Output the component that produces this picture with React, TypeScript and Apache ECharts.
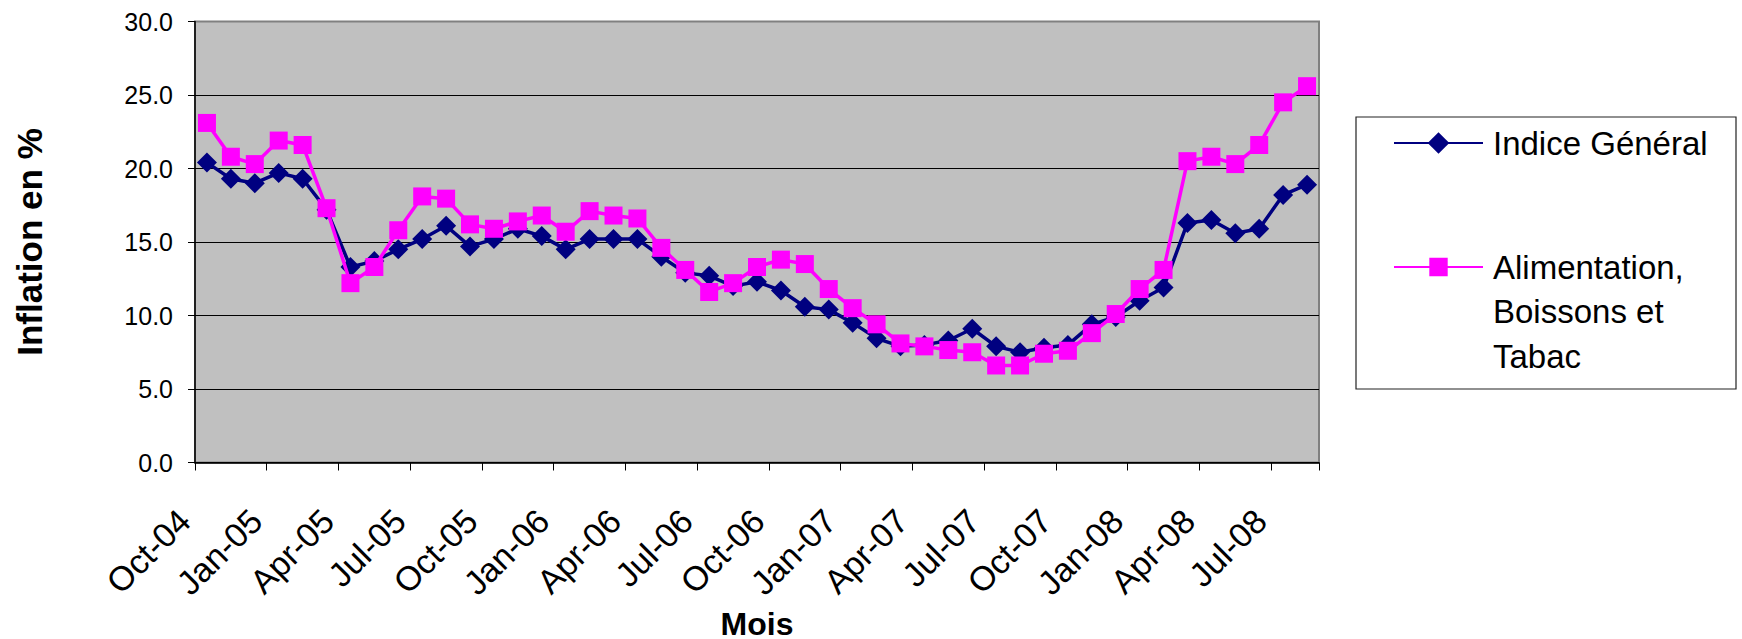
import React, { useEffect, useRef } from "react";
import * as echarts from "echarts";

const months = [
  "Oct-04", "Nov-04", "Dec-04",
  "Jan-05", "Feb-05", "Mar-05", "Apr-05", "May-05", "Jun-05", "Jul-05", "Aug-05", "Sep-05", "Oct-05", "Nov-05", "Dec-05",
  "Jan-06", "Feb-06", "Mar-06", "Apr-06", "May-06", "Jun-06", "Jul-06", "Aug-06", "Sep-06", "Oct-06", "Nov-06", "Dec-06",
  "Jan-07", "Feb-07", "Mar-07", "Apr-07", "May-07", "Jun-07", "Jul-07", "Aug-07", "Sep-07", "Oct-07", "Nov-07", "Dec-07",
  "Jan-08", "Feb-08", "Mar-08", "Apr-08", "May-08", "Jun-08", "Jul-08", "Aug-08",
];

const indiceGeneral = [
  20.4, 19.3, 19.0, 19.7, 19.3, 17.2, 13.3, 13.7, 14.5, 15.2, 16.1, 14.7, 15.2, 15.9, 15.4, 14.5,
  15.2, 15.2, 15.2, 14.0, 12.9, 12.7, 12.0, 12.3, 11.7, 10.6, 10.4, 9.5, 8.45, 7.9, 8.0, 8.3,
  9.1, 7.9, 7.5, 7.8, 8.0, 9.4, 9.9, 11.0, 11.9, 16.3, 16.5, 15.6, 15.9, 18.2, 18.9,
];

const alimentation = [
  23.1, 20.8, 20.3, 21.9, 21.6, 17.3, 12.2, 13.3, 15.8, 18.1, 17.95, 16.2, 15.9, 16.4, 16.8, 15.7,
  17.1, 16.8, 16.6, 14.6, 13.1, 11.6, 12.2, 13.3, 13.8, 13.5, 11.8, 10.5, 9.4, 8.1, 7.9, 7.65,
  7.5, 6.6, 6.6, 7.4, 7.6, 8.8, 10.1, 11.8, 13.1, 20.5, 20.8, 20.3, 21.6, 24.5, 25.6,
];

const seriesNames = ["Indice Général", "Alimentation, Boissons et Tabac"];
const legendLines2 = ["Alimentation,", "Boissons et", "Tabac"];
const yAxisTitle = "Inflation en %";
const xAxisTitle = "Mois";

const FONT = "'Liberation Sans', Arial, sans-serif";

export default function App() {
  const ref = useRef<HTMLDivElement>(null);

  useEffect(() => {
    if (!ref.current) return;
    const chart = echarts.init(ref.current, undefined, { renderer: "svg" });
    chart.setOption({
      animation: false,
      backgroundColor: "#ffffff",
      textStyle: { fontFamily: FONT },
      grid: {
        left: 195,
        top: 21.5,
        right: 423,
        bottom: 176.5,
        containLabel: false,
        outerBoundsMode: "none",
        show: true,
        backgroundColor: "#C0C0C0",
        borderColor: "#808080",
        borderWidth: 2,
      },
      graphic: [
        {
          type: "rect",
          shape: { x: 1356, y: 117, width: 380, height: 272 },
          style: { fill: "none", stroke: "#222", lineWidth: 1.2 },
        },
      ],
      legend: [
        {
          data: [seriesNames[0]],
          left: 1393,
          top: 121,
          padding: 0,
          itemWidth: 89,
          itemHeight: 27,
          textStyle: {
            fontFamily: FONT,
            fontSize: 33,
            color: "#000",
            lineHeight: 44,
            padding: [0, 0, 0, 5],
          },
        },
        {
          data: [seriesNames[1]],
          left: 1393,
          top: 267 - 2.5 * 44.5,
          padding: 0,
          itemWidth: 89,
          itemHeight: 23,
          formatter: () => "\n\n" + legendLines2.join("\n"),
          textStyle: {
            fontFamily: FONT,
            fontSize: 33,
            color: "#000",
            lineHeight: 44.5,
            padding: [0, 0, 0, 5],
          },
        },
      ],
      xAxis: {
        type: "category",
        data: months,
        boundaryGap: true,
        name: xAxisTitle,
        nameLocation: "middle",
        nameGap: 127,
        nameTextStyle: {
          fontFamily: FONT,
          fontSize: 32,
          fontWeight: "bold",
          color: "#000",
          lineHeight: 33,
        },
        axisLine: { show: true, lineStyle: { color: "#000", width: 1.5 } },
        axisTick: { show: true, interval: 2, length: 8, lineStyle: { color: "#000", width: 1 } },
        axisLabel: {
          interval: 2,
          rotate: 45,
          margin: 30,
          fontFamily: FONT,
          fontSize: 34,
          color: "#000",
          padding: [0, 32, 0, 0],
        },
        splitLine: { show: false },
      },
      yAxis: {
        type: "value",
        min: 0,
        max: 30,
        interval: 5,
        name: yAxisTitle,
        nameLocation: "middle",
        nameGap: 148,
        nameTextStyle: { fontFamily: FONT, fontSize: 35, fontWeight: "bold", color: "#000" },
        axisLine: { show: true, lineStyle: { color: "#000", width: 1.5 } },
        axisTick: { show: true, length: 7, lineStyle: { color: "#000", width: 1 } },
        axisLabel: {
          margin: 22,
          fontFamily: FONT,
          fontSize: 25,
          color: "#000",
          formatter: (v: number) => v.toFixed(1),
        },
        splitLine: { show: true, showMaxLine: false, lineStyle: { color: "#000", width: 1 } },
      },
      series: [
        {
          name: seriesNames[0],
          type: "line",
          data: indiceGeneral,
          symbol: "diamond",
          symbolSize: 20,
          showAllSymbol: true,
          color: "#000080",
          lineStyle: { color: "#000080", width: 3.5 },
          itemStyle: { color: "#000080" },
          z: 2,
        },
        {
          name: seriesNames[1],
          type: "line",
          data: alimentation,
          symbol: "rect",
          symbolSize: 18,
          showAllSymbol: true,
          color: "#FF00FF",
          lineStyle: { color: "#FF00FF", width: 3.5 },
          itemStyle: { color: "#FF00FF" },
          z: 3,
        },
      ],
    });
    return () => chart.dispose();
  }, []);

  return (
    <div
      ref={ref}
      style={{ position: "fixed", left: 0, top: 0, width: 1742, height: 639 }}
    />
  );
}
